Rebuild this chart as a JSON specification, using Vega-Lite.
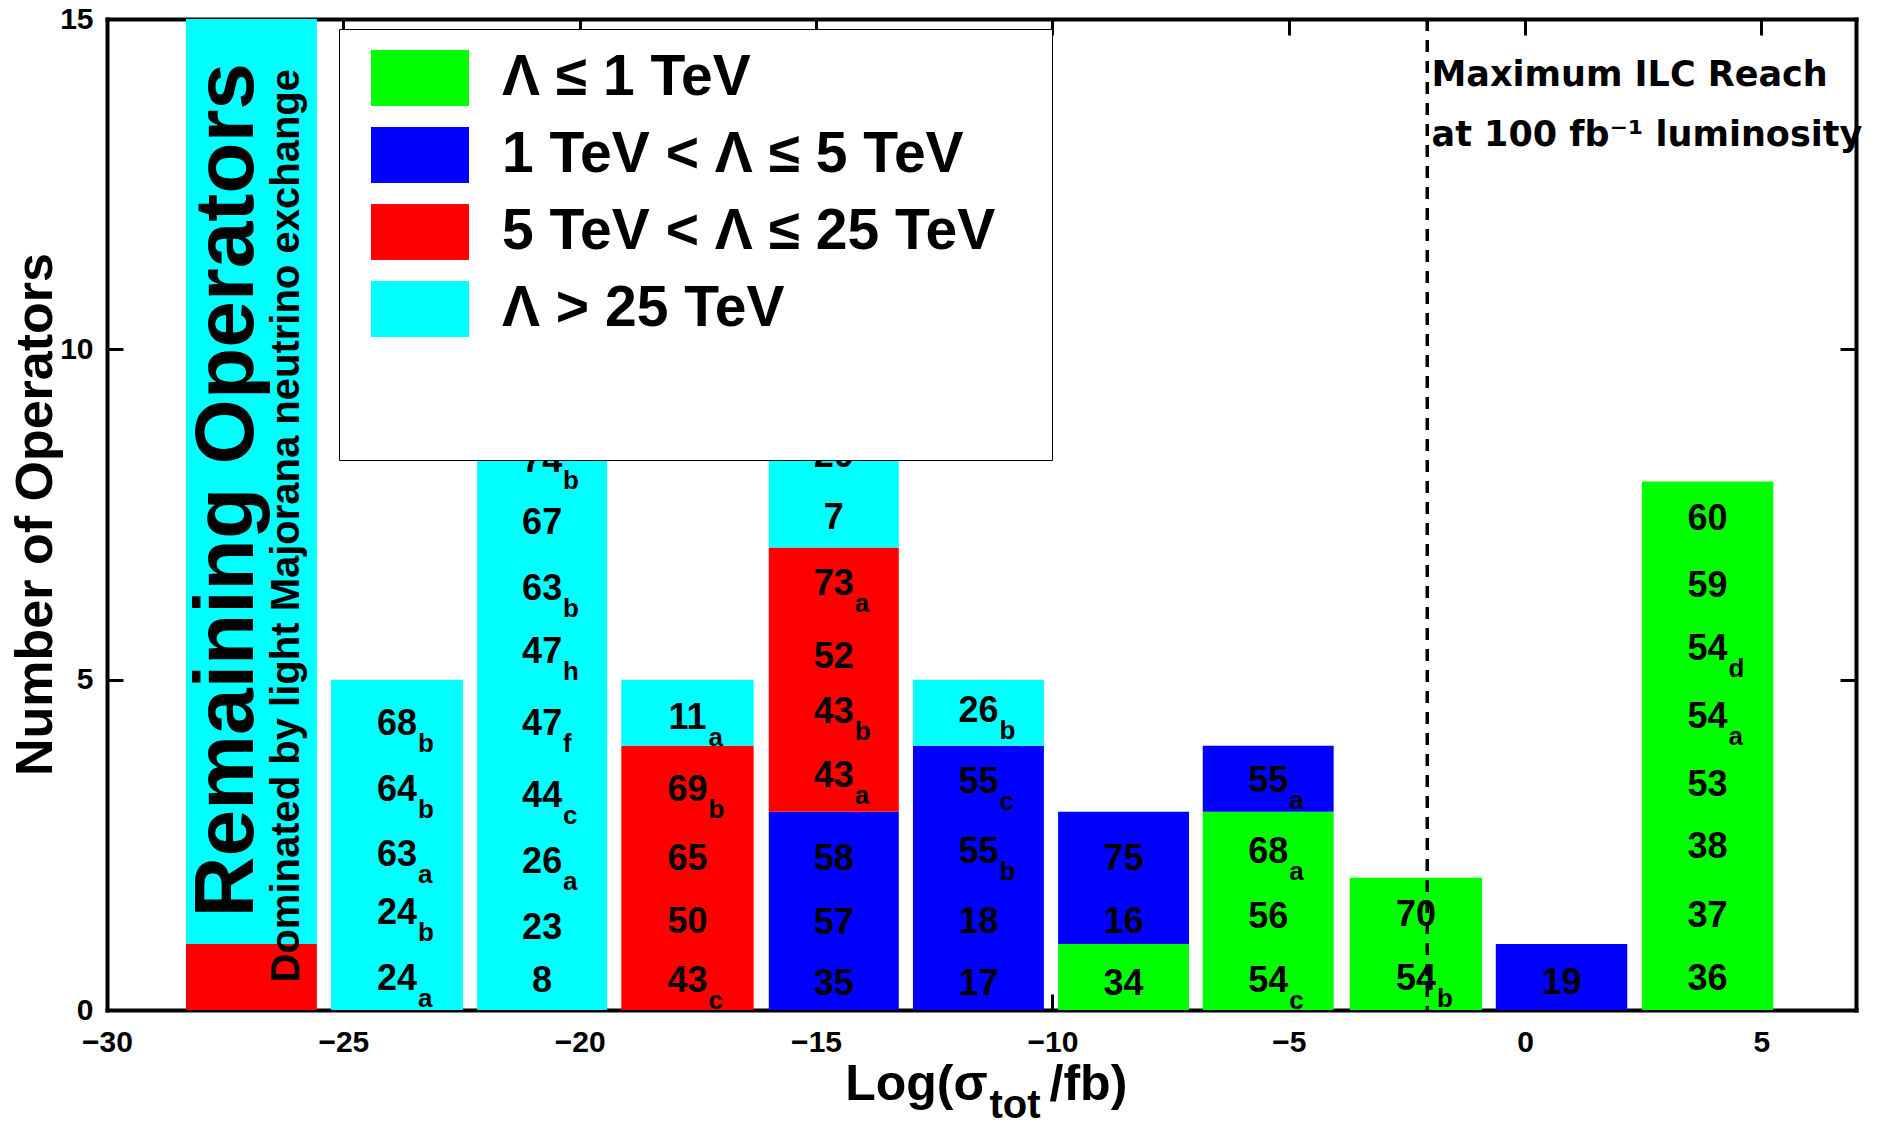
{
  "$schema": "https://vega.github.io/schema/vega-lite/v6.json",
  "width": 1749,
  "height": 991,
  "autosize": {"type": "none"},
  "padding": {"left": 107, "top": 19, "right": 21, "bottom": 115},
  "background": "white",
  "config": {
    "view": {"stroke": null},
    "font": "Liberation Sans",
    "axis": {
      "domainColor": "black", "domainWidth": 4, "domainCap": "square",
      "tickColor": "black", "tickWidth": 3, "tickSize": -16,
      "labelFont": "Liberation Sans", "labelFontSize": 30, "labelFontWeight": "bold", "labelColor": "black",
      "labelFlush": false, "labelOverlap": false, "grid": false
    }
  },
  "datasets": {
    "bars": [
      {"lo": -28.33, "hi": -25.56, "cat": "5 TeV < Λ ≤ 25 TeV", "lvl": 2, "n": 1},
      {"lo": -28.33, "hi": -25.56, "cat": "Λ > 25 TeV", "lvl": 3, "n": 14},
      {"lo": -25.26, "hi": -22.47, "cat": "Λ > 25 TeV", "lvl": 3, "n": 5},
      {"lo": -22.17, "hi": -19.42, "cat": "Λ > 25 TeV", "lvl": 3, "n": 9},
      {"lo": -19.12, "hi": -16.32, "cat": "5 TeV < Λ ≤ 25 TeV", "lvl": 2, "n": 4},
      {"lo": -19.12, "hi": -16.32, "cat": "Λ > 25 TeV", "lvl": 3, "n": 1},
      {"lo": -16.0, "hi": -13.25, "cat": "1 TeV < Λ ≤ 5 TeV", "lvl": 1, "n": 3},
      {"lo": -16.0, "hi": -13.25, "cat": "5 TeV < Λ ≤ 25 TeV", "lvl": 2, "n": 4},
      {"lo": -16.0, "hi": -13.25, "cat": "Λ > 25 TeV", "lvl": 3, "n": 2},
      {"lo": -12.95, "hi": -10.18, "cat": "1 TeV < Λ ≤ 5 TeV", "lvl": 1, "n": 4},
      {"lo": -12.95, "hi": -10.18, "cat": "Λ > 25 TeV", "lvl": 3, "n": 1},
      {"lo": -9.88, "hi": -7.11, "cat": "Λ ≤ 1 TeV", "lvl": 0, "n": 1},
      {"lo": -9.88, "hi": -7.11, "cat": "1 TeV < Λ ≤ 5 TeV", "lvl": 1, "n": 2},
      {"lo": -6.82, "hi": -4.05, "cat": "Λ ≤ 1 TeV", "lvl": 0, "n": 3},
      {"lo": -6.82, "hi": -4.05, "cat": "1 TeV < Λ ≤ 5 TeV", "lvl": 1, "n": 1},
      {"lo": -3.71, "hi": -0.91, "cat": "Λ ≤ 1 TeV", "lvl": 0, "n": 2},
      {"lo": -0.62, "hi": 2.16, "cat": "1 TeV < Λ ≤ 5 TeV", "lvl": 1, "n": 1},
      {"lo": 2.47, "hi": 5.25, "cat": "Λ ≤ 1 TeV", "lvl": 0, "n": 8}
    ],
    "labels": [
      {"xc": -23.865, "yb": 4.17, "num": "68", "sub": "b"},
      {"xc": -23.865, "yb": 3.16, "num": "64", "sub": "b"},
      {"xc": -23.865, "yb": 2.18, "num": "63", "sub": "a"},
      {"xc": -23.865, "yb": 1.30, "num": "24", "sub": "b"},
      {"xc": -23.865, "yb": 0.31, "num": "24", "sub": "a"},
      {"xc": -20.795, "yb": 8.15, "num": "74", "sub": "b"},
      {"xc": -20.795, "yb": 7.20, "num": "67", "sub": ""},
      {"xc": -20.795, "yb": 6.20, "num": "63", "sub": "b"},
      {"xc": -20.795, "yb": 5.25, "num": "47", "sub": "h"},
      {"xc": -20.795, "yb": 4.17, "num": "47", "sub": "f"},
      {"xc": -20.795, "yb": 3.08, "num": "44", "sub": "c"},
      {"xc": -20.795, "yb": 2.08, "num": "26", "sub": "a"},
      {"xc": -20.795, "yb": 1.07, "num": "23", "sub": ""},
      {"xc": -20.795, "yb": 0.28, "num": "8", "sub": ""},
      {"xc": -17.72, "yb": 4.25, "num": "11", "sub": "a"},
      {"xc": -17.72, "yb": 3.16, "num": "69", "sub": "b"},
      {"xc": -17.72, "yb": 2.12, "num": "65", "sub": ""},
      {"xc": -17.72, "yb": 1.16, "num": "50", "sub": ""},
      {"xc": -17.72, "yb": 0.27, "num": "43", "sub": "c"},
      {"xc": -14.625, "yb": 8.22, "num": "20", "sub": ""},
      {"xc": -14.625, "yb": 7.28, "num": "7", "sub": ""},
      {"xc": -14.625, "yb": 6.28, "num": "73", "sub": "a"},
      {"xc": -14.625, "yb": 5.18, "num": "52", "sub": ""},
      {"xc": -14.625, "yb": 4.35, "num": "43", "sub": "b"},
      {"xc": -14.625, "yb": 3.37, "num": "43", "sub": "a"},
      {"xc": -14.625, "yb": 2.12, "num": "58", "sub": ""},
      {"xc": -14.625, "yb": 1.15, "num": "57", "sub": ""},
      {"xc": -14.625, "yb": 0.22, "num": "35", "sub": ""},
      {"xc": -11.565, "yb": 4.36, "num": "26", "sub": "b"},
      {"xc": -11.565, "yb": 3.28, "num": "55", "sub": "c"},
      {"xc": -11.565, "yb": 2.22, "num": "55", "sub": "b"},
      {"xc": -11.565, "yb": 1.16, "num": "18", "sub": ""},
      {"xc": -11.565, "yb": 0.22, "num": "17", "sub": ""},
      {"xc": -8.495, "yb": 2.12, "num": "75", "sub": ""},
      {"xc": -8.495, "yb": 1.16, "num": "16", "sub": ""},
      {"xc": -8.495, "yb": 0.22, "num": "34", "sub": ""},
      {"xc": -5.435, "yb": 3.30, "num": "55", "sub": "a"},
      {"xc": -5.435, "yb": 2.22, "num": "68", "sub": "a"},
      {"xc": -5.435, "yb": 1.24, "num": "56", "sub": ""},
      {"xc": -5.435, "yb": 0.27, "num": "54", "sub": "c"},
      {"xc": -2.31, "yb": 1.27, "num": "70", "sub": ""},
      {"xc": -2.31, "yb": 0.31, "num": "54", "sub": "b"},
      {"xc": 0.77, "yb": 0.24, "num": "19", "sub": ""},
      {"xc": 3.86, "yb": 7.26, "num": "60", "sub": ""},
      {"xc": 3.86, "yb": 6.25, "num": "59", "sub": ""},
      {"xc": 3.86, "yb": 5.30, "num": "54", "sub": "d"},
      {"xc": 3.86, "yb": 4.27, "num": "54", "sub": "a"},
      {"xc": 3.86, "yb": 3.24, "num": "53", "sub": ""},
      {"xc": 3.86, "yb": 2.30, "num": "38", "sub": ""},
      {"xc": 3.86, "yb": 1.26, "num": "37", "sub": ""},
      {"xc": 3.86, "yb": 0.31, "num": "36", "sub": ""}
    ],
    "bigNote": [{"x": -26.91, "y": 7.87, "text": "Remaining Operators"}],
    "smallNote": [{"x": -25.94, "y": 7.33, "text": "Dominated by light Majorana neutrino exchange"}],
    "ilcNote": [
      {"x": -1.98, "y": 13.98, "text": "Maximum ILC Reach"},
      {"x": -1.98, "y": 13.08, "text": "at 100 fb⁻¹ luminosity"}
    ],
    "ilcLine": [{"x": -2.07}],
    "titleMain": [
      {"x": -11.37, "y": -1.36, "text": "Log(σ", "side": "left"},
      {"x": -10.06, "y": -1.36, "text": "/fb)", "side": "right"}
    ],
    "titleSub": [{"x": -11.33, "y": -1.64, "text": "tot"}]
  },
  "resolve": {"axis": {"x": "independent", "y": "independent"}},
  "layer": [
    {
      "data": {"name": "bars"},
      "transform": [
        {"stack": "n", "groupby": ["lo"], "sort": [{"field": "lvl", "order": "ascending"}], "as": ["y0", "y1"]}
      ],
      "mark": {"type": "bar", "strokeWidth": 0},
      "encoding": {
        "x": {
          "field": "lo", "type": "quantitative",
          "scale": {"domain": [-30, 7], "nice": false, "zero": false},
          "axis": {
            "orient": "bottom", "title": null, "values": [-30, -25, -20, -15, -10, -5, 0, 5],
            "labelFont": "Liberation Sans", "labelFontSize": 30, "labelFontWeight": "bold", "labelColor": "black",
            "labelPadding": 33, "tickSize": -16, "tickWidth": 3, "domainWidth": 4
          }
        },
        "x2": {"field": "hi"},
        "y": {
          "field": "y0", "type": "quantitative",
          "scale": {"domain": [0, 15], "nice": false, "zero": false},
          "axis": {
            "orient": "left", "values": [0, 5, 10, 15],
            "labelFont": "Liberation Sans", "labelFontSize": 30, "labelFontWeight": "bold", "labelColor": "black",
            "labelPadding": 30, "tickSize": -16, "tickWidth": 3, "domainWidth": 4,
            "title": "Number of Operators", "titleFontSize": 52, "titleFontWeight": "bold", "titleColor": "black",
            "titleFont": "Liberation Sans", "titleAngle": -90, "titleAlign": "center", "titleBaseline": "alphabetic",
            "titleX": -56, "titleY": 495
          }
        },
        "y2": {"field": "y1"},
        "color": {
          "field": "cat", "type": "nominal",
          "scale": {
            "domain": ["Λ ≤ 1 TeV", "1 TeV < Λ ≤ 5 TeV", "5 TeV < Λ ≤ 25 TeV", "Λ > 25 TeV"],
            "range": ["#00ff00", "#0000ff", "#ff0000", "#00ffff"]
          },
          "legend": {
            "orient": "none", "legendX": 232, "legendY": 10, "direction": "vertical",
            "title": " ", "titleOrient": "right", "titleFontSize": 280, "titleBaseline": "top",
            "titlePadding": 57,
            "fillColor": "white", "strokeColor": "black", "padding": 0,
            "symbolType": "M-1,-0.571L1,-0.571L1,0.571L-1,0.571Z", "symbolSize": 9604,
            "symbolStrokeWidth": 0, "symbolOpacity": 1, "symbolOffset": 32,
            "labelFont": "Liberation Sans", "labelFontSize": 57, "labelFontWeight": "bold", "labelColor": "black",
            "labelOffset": 33, "labelLimit": 2000, "rowPadding": -2
          }
        }
      }
    },
    {
      "data": {"name": "ilcLine"},
      "mark": {"type": "rule", "strokeDash": [12, 9], "strokeWidth": 3.5, "color": "black"},
      "encoding": {
        "x": {"field": "x", "type": "quantitative", "scale": {"domain": [-30, 7], "nice": false, "zero": false}, "axis": null}
      }
    },
    {
      "data": {"name": "labels"},
      "mark": {"type": "text", "font": "Liberation Sans", "fontWeight": "bold", "fontSize": 36, "align": "center", "baseline": "alphabetic", "color": "black"},
      "encoding": {
        "x": {
          "field": "xc", "type": "quantitative",
          "scale": {"domain": [-30, 7], "nice": false, "zero": false},
          "axis": {"orient": "top", "title": null, "labels": false, "values": [-30, -25, -20, -15, -10, -5, 0, 5], "tickSize": -16, "tickWidth": 3, "domainWidth": 4}
        },
        "y": {
          "field": "yb", "type": "quantitative",
          "scale": {"domain": [0, 15], "nice": false, "zero": false},
          "axis": {"orient": "right", "title": null, "labels": false, "values": [0, 5, 10, 15], "tickSize": -16, "tickWidth": 3, "domainWidth": 4}
        },
        "text": {"field": "num"}
      }
    },
    {
      "data": {"name": "labels"},
      "mark": {"type": "text", "font": "Liberation Sans", "fontWeight": "bold", "fontSize": 26, "align": "left", "baseline": "alphabetic", "dx": 21, "dy": 17, "color": "black"},
      "encoding": {
        "x": {"field": "xc", "type": "quantitative", "scale": {"domain": [-30, 7], "nice": false, "zero": false}, "axis": null},
        "y": {"field": "yb", "type": "quantitative", "scale": {"domain": [0, 15], "nice": false, "zero": false}, "axis": null},
        "text": {"field": "sub"}
      }
    },
    {
      "data": {"name": "bigNote"},
      "mark": {"type": "text", "font": "Liberation Sans", "fontWeight": "bold", "fontSize": 84, "angle": 270, "align": "center", "baseline": "alphabetic", "color": "black"},
      "encoding": {
        "x": {"field": "x", "type": "quantitative", "scale": {"domain": [-30, 7], "nice": false, "zero": false}, "axis": null},
        "y": {"field": "y", "type": "quantitative", "scale": {"domain": [0, 15], "nice": false, "zero": false}, "axis": null},
        "text": {"field": "text"}
      }
    },
    {
      "data": {"name": "smallNote"},
      "mark": {"type": "text", "font": "Liberation Sans", "fontWeight": "bold", "fontSize": 40, "angle": 270, "align": "center", "baseline": "alphabetic", "color": "black"},
      "encoding": {
        "x": {"field": "x", "type": "quantitative", "scale": {"domain": [-30, 7], "nice": false, "zero": false}, "axis": null},
        "y": {"field": "y", "type": "quantitative", "scale": {"domain": [0, 15], "nice": false, "zero": false}, "axis": null},
        "text": {"field": "text"}
      }
    },
    {
      "data": {"name": "ilcNote"},
      "mark": {"type": "text", "font": "DejaVu Sans", "fontWeight": "bold", "fontSize": 35, "align": "left", "baseline": "alphabetic", "color": "black"},
      "encoding": {
        "x": {"field": "x", "type": "quantitative", "scale": {"domain": [-30, 7], "nice": false, "zero": false}, "axis": null},
        "y": {"field": "y", "type": "quantitative", "scale": {"domain": [0, 15], "nice": false, "zero": false}, "axis": null},
        "text": {"field": "text"}
      }
    },
    {
      "data": {"name": "titleMain"},
      "transform": [{"filter": "datum.side == 'left'"}],
      "mark": {"type": "text", "font": "Liberation Sans", "fontWeight": "bold", "fontSize": 50, "align": "right", "baseline": "alphabetic", "color": "black"},
      "encoding": {
        "x": {"field": "x", "type": "quantitative", "scale": {"domain": [-30, 7], "nice": false, "zero": false}, "axis": null},
        "y": {"field": "y", "type": "quantitative", "scale": {"domain": [0, 15], "nice": false, "zero": false}, "axis": null},
        "text": {"field": "text"}
      }
    },
    {
      "data": {"name": "titleMain"},
      "transform": [{"filter": "datum.side == 'right'"}],
      "mark": {"type": "text", "font": "Liberation Sans", "fontWeight": "bold", "fontSize": 50, "align": "left", "baseline": "alphabetic", "color": "black"},
      "encoding": {
        "x": {"field": "x", "type": "quantitative", "scale": {"domain": [-30, 7], "nice": false, "zero": false}, "axis": null},
        "y": {"field": "y", "type": "quantitative", "scale": {"domain": [0, 15], "nice": false, "zero": false}, "axis": null},
        "text": {"field": "text"}
      }
    },
    {
      "data": {"name": "titleSub"},
      "mark": {"type": "text", "font": "Liberation Sans", "fontWeight": "bold", "fontSize": 40, "align": "left", "baseline": "alphabetic", "color": "black"},
      "encoding": {
        "x": {"field": "x", "type": "quantitative", "scale": {"domain": [-30, 7], "nice": false, "zero": false}, "axis": null},
        "y": {"field": "y", "type": "quantitative", "scale": {"domain": [0, 15], "nice": false, "zero": false}, "axis": null},
        "text": {"field": "text"}
      }
    }
  ]
}
